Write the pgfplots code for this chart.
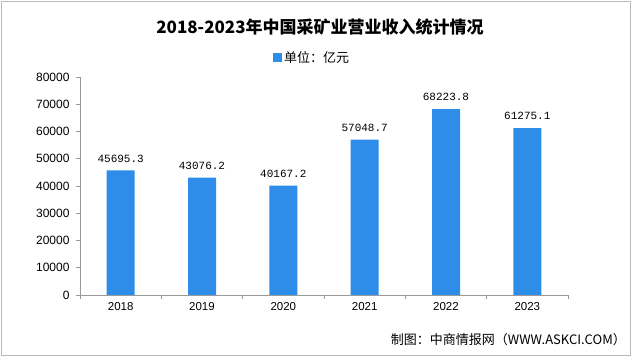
\documentclass[border=0pt]{standalone}
\usepackage{fontspec}
\usepackage{pgfplots}
\pgfplotsset{compat=1.18}
\setmainfont{Liberation Sans}
\newfontfamily\cjk{Noto Sans CJK SC}
\newfontfamily\valfont{Liberation Mono}
\definecolor{barblue}{HTML}{2E8DE8}
\definecolor{axgray}{HTML}{9A9A9A}
\begin{document}
\begin{tikzpicture}
\fill[white] (0pt,0pt) rectangle (640pt,358pt);
\draw[gray!55, line width=0.8pt] (1pt,3pt) rectangle (630pt,357pt);
\node[font=\cjk\bfseries\fontsize{17}{20}\selectfont, anchor=center] at (320pt,331pt) {2018-2023年中国采矿业营业收入统计情况};
\fill[barblue] (273pt,296pt) rectangle (282pt,305pt);
\node[font=\cjk\fontsize{13}{15}\selectfont, anchor=west, inner sep=0pt] at (284pt,300.5pt) {单位：亿元};
\node[font=\cjk\fontsize{13}{15}\selectfont, anchor=east, inner sep=0pt] at (626pt,18pt) {制图：中商情报网（WWW.ASKCI.COM）};
\begin{axis}[
  at={(80pt,63pt)}, anchor=south west,
  scale only axis, width=488pt, height=218pt,
  xmin=-0.5, xmax=5.5, ymin=0, ymax=80000,
  ybar, bar width=28pt, bar shift=0pt,
  axis lines*=left,
  axis line style={axgray, line width=0.8pt},
  tick style={axgray, line width=0.8pt},
  tick align=outside, major tick length=4pt,
  xtick={-0.5,0.5,1.5,2.5,3.5,4.5,5.5},
  x tick label as interval,
  xticklabels={2018,2019,2020,2021,2022,2023},
  ytick={0,10000,...,80000},
  scaled y ticks=false,
  /pgf/number format/.cd, 1000 sep={}, assume math mode=true, /pgfplots/.cd,
  yticklabel style={font=\fontsize{12}{14}\selectfont, xshift=-3pt},
  xticklabel style={font=\fontsize{11.5}{14}\selectfont},
  point meta=explicit symbolic,
  nodes near coords={\pgfplotspointmeta},
  nodes near coords style={font=\valfont\fontsize{11}{13}\selectfont, anchor=south, inner sep=0pt, yshift=8pt},
]
\addplot[fill=barblue, draw=none] coordinates {
  (0,45695.3) [45695.3]
  (1,43076.2) [43076.2]
  (2,40167.2) [40167.2]
  (3,57048.7) [57048.7]
  (4,68223.8) [68223.8]
  (5,61275.1) [61275.1]
};
\end{axis}
\end{tikzpicture}
\end{document}
